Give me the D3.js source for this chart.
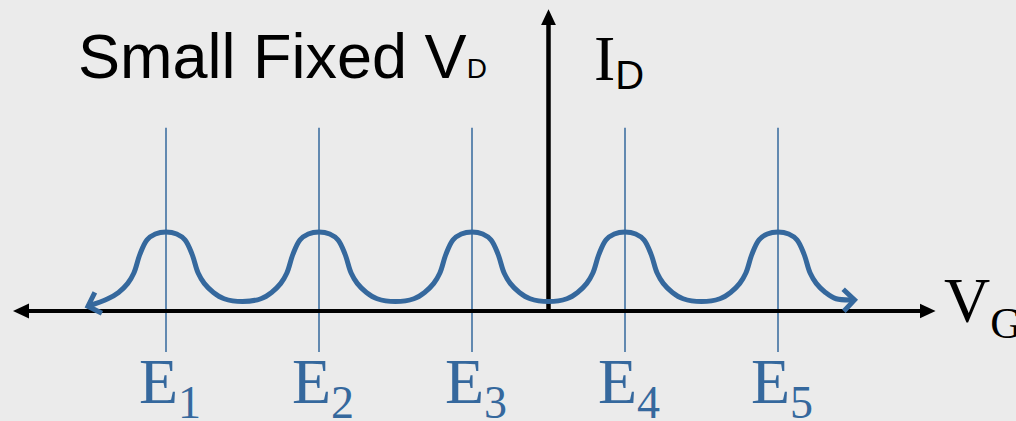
<!DOCTYPE html>
<html>
<head>
<meta charset="utf-8">
<script src="https://cdn.jsdelivr.net/npm/d3@7"></script>
<style>
  html, body { margin: 0; padding: 0; background: #ebebeb; }
  svg { display: block; }
</style>
</head>
<body>
<svg id="vis" width="1016" height="421"></svg>
<script>
// energy levels E1..E5 (position on VG)
var levelNames = ["1", "2", "3", "4", "5"];
var levelVG = [1, 2, 3, 4, 5];
// shape of one conductance peak, offset from its level and ID value
var peakDx = [-0.38, -0.31, -0.25, -0.21, -0.17, -0.124, -0.07, 0, 0.07, 0.124, 0.17, 0.21, 0.25, 0.31, 0.38];
var peakID = [0.155, 0.235, 0.35, 0.48, 0.72, 0.9, 0.975, 1, 0.975, 0.9, 0.72, 0.48, 0.35, 0.235, 0.155];
// value midway between two peaks
var valleyID = 0.12;
// where the curve ends, [VG, ID]
var tailLeft = [0.49, 0.06];
var tailRight = [5.5, 0.14];
// axis extent
var vgAxis = [0, 6.03];
var idAxisTop = 3.82;
var originVG = 3.5;

var blue = "#35689d";
var svg = d3.select("svg#vis");

var x = d3.scaleLinear().domain([0, 6]).range([13, 931]);
var y = d3.scaleLinear().domain([0, 1]).range([311, 232]);

var defs = svg.append("defs");
defs.append("marker")
	.attr("id", "axhead")
	.attr("markerUnits", "userSpaceOnUse")
	.attr("viewBox", "0 -8 17 16")
	.attr("refX", 2).attr("refY", 0)
	.attr("markerWidth", 17).attr("markerHeight", 16)
	.attr("orient", "auto-start-reverse")
	.append("path")
	.attr("d", "M0,-7.5L16,0L0,7.5Z")
	.attr("fill", "#000");
defs.append("marker")
	.attr("id", "chev")
	.attr("markerUnits", "userSpaceOnUse")
	.attr("viewBox", "-16 -16 20 32")
	.attr("refX", 0).attr("refY", 0)
	.attr("markerWidth", 20).attr("markerHeight", 32)
	.attr("orient", "auto-start-reverse")
	.style("overflow", "visible")
	.append("path")
	.attr("d", "M-11,-11L0,0L-11,11")
	.attr("fill", "none")
	.attr("stroke", blue)
	.attr("stroke-width", 5);

// thin lines at each level
svg.selectAll("line.level")
	.data(levelVG)
	.enter()
	.append("line")
	.attr("class", "level")
	.attr("x1", function(d){ return x(d); })
	.attr("x2", function(d){ return x(d); })
	.attr("y1", y(2.32))
	.attr("y2", y(-0.52))
	.attr("stroke", blue)
	.attr("stroke-width", 1.5);

// axes
svg.append("line")
	.attr("x1", x(vgAxis[0]) + 14).attr("x2", x(vgAxis[1]) - 14)
	.attr("y1", y(0)).attr("y2", y(0))
	.attr("stroke", "#000").attr("stroke-width", 4)
	.attr("marker-start", "url(#axhead)")
	.attr("marker-end", "url(#axhead)");
svg.append("line")
	.attr("x1", x(originVG)).attr("x2", x(originVG))
	.attr("y1", y(0)).attr("y2", y(idAxisTop) + 14)
	.attr("stroke", "#000").attr("stroke-width", 4.5)
	.attr("marker-end", "url(#axhead)");

// build the curve
var pts = [tailLeft];
levelVG.forEach(function(c, i){
	if (i > 0) pts.push([c - 0.5, valleyID]);
	peakDx.forEach(function(dx, j){
		pts.push([c + dx, peakID[j]]);
	});
});
pts.push(tailRight);

var line = d3.line()
	.x(function(d){ return x(d[0]); })
	.y(function(d){ return y(d[1]); })
	.curve(d3.curveCatmullRom.alpha(0.5));

svg.append("path")
	.datum(pts)
	.attr("d", line)
	.attr("fill", "none")
	.attr("stroke", blue)
	.attr("stroke-width", 5)
	.attr("marker-start", "url(#chev)")
	.attr("marker-end", "url(#chev)");

// level labels
var serif = "'Liberation Serif', 'Times New Roman', serif";
var sans = "'Liberation Sans', Arial, sans-serif";
var lab = svg.selectAll("text.elab")
	.data(levelVG)
	.enter()
	.append("text")
	.attr("class", "elab")
	.attr("x", function(d){ return x(d) - 27; })
	.attr("y", 403)
	.attr("fill", blue)
	.style("font-family", serif)
	.style("font-size", "64px")
	.text("E");
lab.append("tspan")
	.attr("dy", 15)
	.style("font-size", "46px")
	.text(function(d, i){ return levelNames[i]; });

// title
var t = svg.append("text")
	.attr("x", 78).attr("y", 78)
	.style("font-family", sans)
	.style("font-size", "63px")
	.attr("fill", "#000")
	.text("Small Fixed V");
t.append("tspan").style("font-size", "28px").text("D");

// axis names
var idl = svg.append("text")
	.attr("x", 594).attr("y", 80)
	.style("font-family", serif)
	.style("font-size", "64px")
	.text("I");
idl.append("tspan").attr("dy", 9).style("font-family", sans).style("font-size", "40px").text("D");

var vgl = svg.append("text")
	.attr("x", 944).attr("y", 322)
	.style("font-family", serif)
	.style("font-size", "64px")
	.text("V");
vgl.append("tspan").attr("dy", 16).style("font-size", "44px").text("G");
</script>
</body>
</html>
